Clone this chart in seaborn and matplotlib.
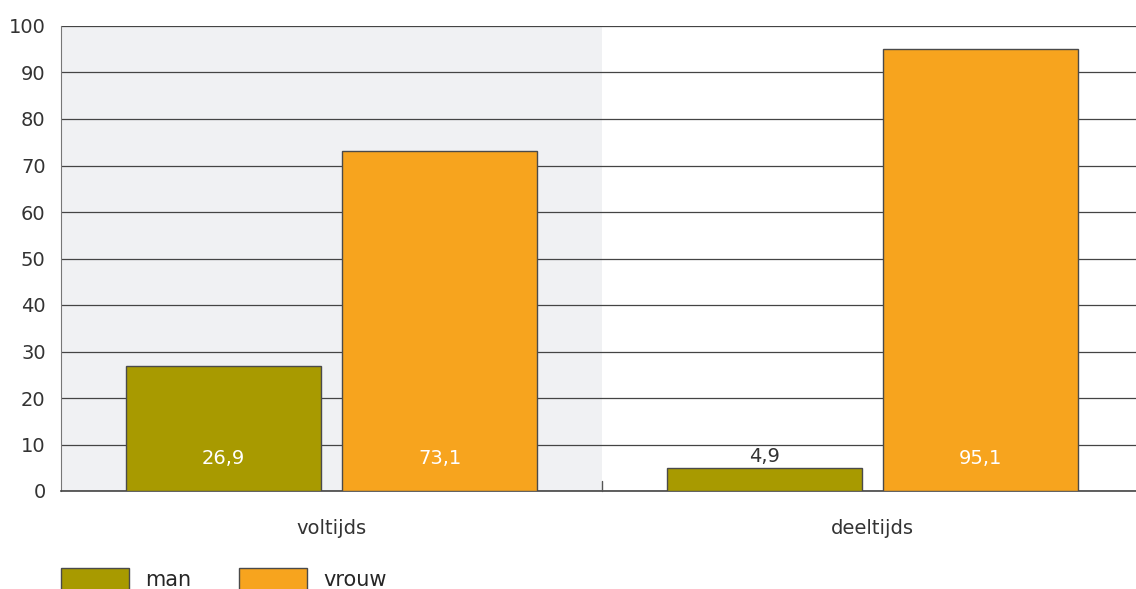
import matplotlib
matplotlib.use('Agg')
import matplotlib.pyplot as plt
import seaborn as sns
import pandas as pd
from matplotlib.patches import Patch

# ─── Data ─────────────────────────────────────────────────────────────────────
categories = ['voltijds', 'deeltijds']
groups = ['man', 'vrouw']
man_values = [26.9, 4.9]
vrouw_values = [73.1, 95.1]
yticks = [0, 10, 20, 30, 40, 50, 60, 70, 80, 90, 100]

colors = {'man': '#a89a00', 'vrouw': '#f7a41e'}

df = pd.DataFrame({
    'cat': categories * 2,
    'group': ['man'] * 2 + ['vrouw'] * 2,
    'value': man_values + vrouw_values,
})

sns.set_style('white')
plt.rcParams['font.family'] = ['DejaVu Sans']
FS = 14

fig = plt.figure(figsize=(11.36, 5.89), dpi=100)
ax = fig.add_axes([61 / 1136, 1 - 491 / 589, 1 - 61 / 1136 + 0.006, 465 / 589])

sns.barplot(data=df, x='cat', y='value', hue='group', hue_order=groups,
            palette=colors, width=0.8, gap=0.1, edgecolor='#4a4a4a',
            linewidth=1, saturation=1, legend=False, ax=ax, zorder=3)

ax.axvspan(-0.5, 0.5, color='#f0f1f3', zorder=0, lw=0)
ax.set_xlim(-0.5, 1.5)
ax.set_ylim(0, 100)
ax.set_yticks(yticks)
ax.set_yticklabels([str(t) for t in yticks], fontsize=FS, color='#333333')
ax.yaxis.grid(True, color='#444444', linewidth=0.9, zorder=1)
ax.set_axisbelow(True)
ax.tick_params(axis='y', length=0, pad=11)
ax.tick_params(axis='x', length=0, pad=20, labelsize=FS, labelcolor='#333333')
ax.set_xlabel('')
ax.set_ylabel('')
for s in ['top', 'right']:
    ax.spines[s].set_visible(False)
ax.spines['left'].set_color('#777777')
ax.spines['bottom'].set_color('#444444')
ax.spines['bottom'].set_linewidth(1.2)

# small separator tick between categories
ax.plot([0.5, 0.5], [0, 2.2], color='#555555', lw=1, zorder=4, clip_on=False)

# value labels
for container, grp in zip(ax.containers, groups):
    for bar in container:
        h = bar.get_height()
        x = bar.get_x() + bar.get_width() / 2
        txt = f'{h:.1f}'.replace('.', ',')
        if h > 10:
            ax.text(x, 7, txt, ha='center', va='center', color='white', fontsize=FS, zorder=5)
        else:
            ax.text(x, h + 2.5, txt, ha='center', va='center', color='#333333', fontsize=FS, zorder=5)

handles = [Patch(facecolor=colors[g], edgecolor='#4a4a4a', label=g) for g in groups]
fig.legend(handles=handles, loc='upper left', bbox_to_anchor=(61 / 1136, 1 - 568 / 589),
           ncol=2, frameon=False, fontsize=15, handlelength=3.25, handleheight=1.3,
           columnspacing=2.3, handletextpad=0.8, borderaxespad=0, borderpad=0)

fig.savefig('out.png', dpi=100)
